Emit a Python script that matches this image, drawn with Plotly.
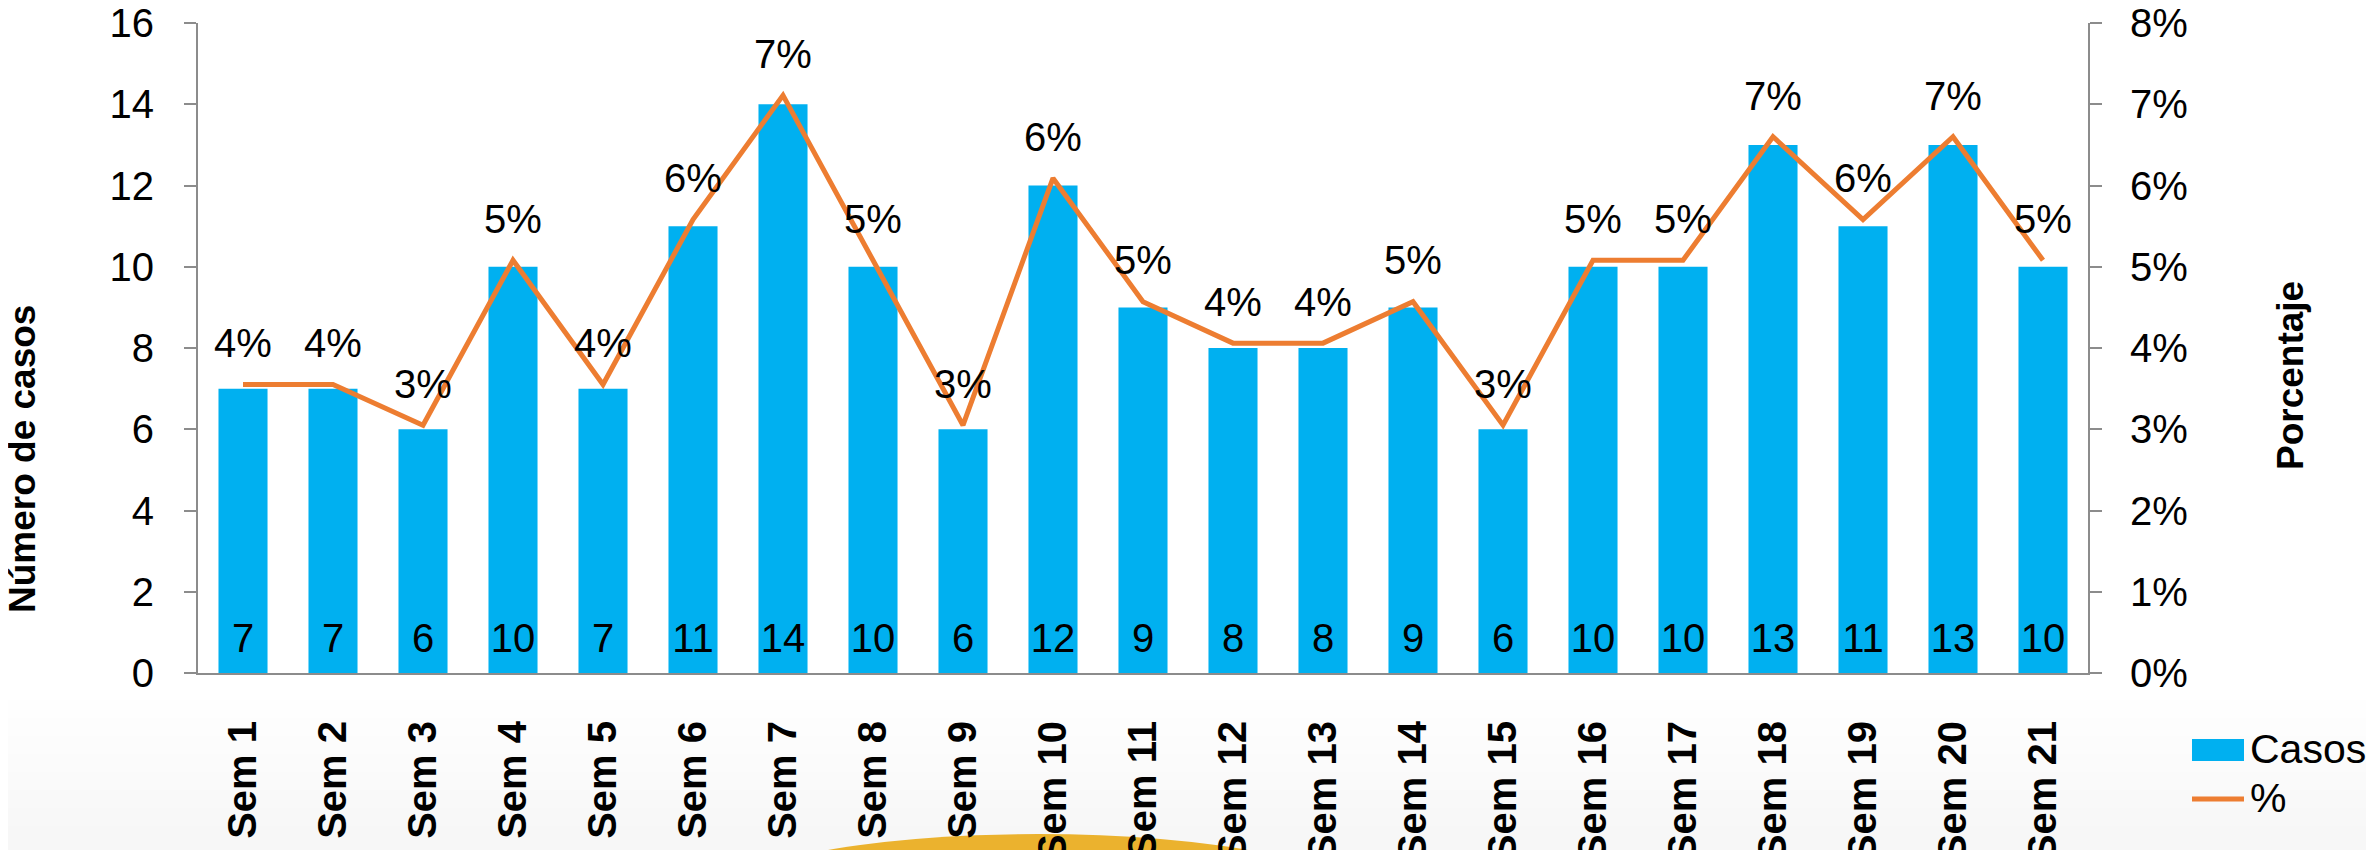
import plotly.graph_objects as go

semanas = ['Sem 1', 'Sem 2', 'Sem 3', 'Sem 4', 'Sem 5', 'Sem 6', 'Sem 7',
           'Sem 8', 'Sem 9', 'Sem 10', 'Sem 11', 'Sem 12', 'Sem 13', 'Sem 14',
           'Sem 15', 'Sem 16', 'Sem 17', 'Sem 18', 'Sem 19', 'Sem 20', 'Sem 21']
casos = [7, 7, 6, 10, 7, 11, 14, 10, 6, 12, 9, 8, 8, 9, 6, 10, 10, 13, 11, 13, 10]
porcentaje = [0.0355, 0.0355, 0.0305, 0.0508, 0.0355, 0.0558, 0.0711,
              0.0508, 0.0305, 0.0609, 0.0457, 0.0406, 0.0406, 0.0457,
              0.0305, 0.0508, 0.0508, 0.0660, 0.0558, 0.0660, 0.0508]

AZUL = '#00B0F0'
NARANJA = '#ED7D31'
GRIS = '#8C8C8C'
FUENTE = 'Liberation Sans, Arial, sans-serif'

# the page body adds 8px, so the plot area lands at x 198..2088, y 23..673
W, H = 2374, 850
L, T = 190, 15
pw, ph = 1890, 650
R, B = W - L - pw, H - T - ph
X0, Y1 = 198, 673  # plot area corner on screen


def px(x):
    return (x - X0) / pw


def py(y):
    return (Y1 - y) / ph


fig = go.Figure()

fig.add_trace(go.Bar(
    x=semanas, y=casos, name='Casos',
    marker=dict(color=AZUL, line=dict(width=0)),
    showlegend=False, hoverinfo='x+y',
))

# case counts written at the foot of each bar
fig.add_trace(go.Scatter(
    x=semanas, y=[0] * len(casos), text=casos,
    mode='markers+text', textposition='top center',
    marker=dict(size=16, opacity=0),
    textfont=dict(family=FUENTE, size=40, color='black'),
    cliponaxis=False, showlegend=False, hoverinfo='skip',
))

fig.add_trace(go.Scatter(
    x=semanas, y=porcentaje, name='%', yaxis='y2',
    mode='lines+markers+text',
    line=dict(color=NARANJA, width=5),
    marker=dict(size=26, opacity=0, color=NARANJA),
    texttemplate='%{y:.0%}', textposition='top center',
    textfont=dict(family=FUENTE, size=40, color='black'),
    cliponaxis=False, showlegend=False,
))

shapes = []
# very soft grey fade at the bottom of the slide
grises = ['#fefefe', '#fdfdfd', '#fcfcfc', '#fbfbfb', '#fafafa', '#f9f9f9', '#f8f8f8', '#f7f7f7']
for i, c in enumerate(grises):
    shapes.append(dict(type='rect', xref='paper', yref='paper', layer='below',
                       x0=px(-5), x1=px(W + 5), y0=py(H + 5), y1=py(700 + i * 18),
                       fillcolor=c, line=dict(width=0)))
# golden arc decoration
shapes.append(dict(type='circle', xref='paper', yref='paper', layer='below',
                   x0=px(718), x1=px(1358), y0=py(964), y1=py(834),
                   fillcolor='#EBB22E', line=dict(width=0)))
# legend swatches
shapes.append(dict(type='rect', xref='paper', yref='paper',
                   x0=px(2192), x1=px(2244), y0=py(761), y1=py(739),
                   fillcolor=AZUL, line=dict(width=0)))
shapes.append(dict(type='line', xref='paper', yref='paper',
                   x0=px(2192), x1=px(2244), y0=py(799), y1=py(799),
                   line=dict(color=NARANJA, width=5)))

annotations = [
    dict(text='Número de casos', xref='paper', yref='paper', x=px(22), y=py(459),
         textangle=-90, showarrow=False, xanchor='center', yanchor='middle',
         font=dict(family=FUENTE, size=37, color='black', weight='bold')),
    dict(text='Porcentaje', xref='paper', yref='paper', x=px(2291), y=py(376),
         textangle=-90, showarrow=False, xanchor='center', yanchor='middle',
         font=dict(family=FUENTE, size=37, color='black', weight='bold')),
    dict(text='Casos', xref='paper', yref='paper', x=px(2248), y=py(749),
         showarrow=False, xanchor='left', yanchor='middle',
         font=dict(family=FUENTE, size=41, color='black')),
    dict(text='%', xref='paper', yref='paper', x=px(2248), y=py(798),
         showarrow=False, xanchor='left', yanchor='middle',
         font=dict(family=FUENTE, size=41, color='black')),
]

fig.update_layout(
    width=W, height=H,
    margin=dict(l=L, r=R, t=T, b=B, autoexpand=False),
    paper_bgcolor='white', plot_bgcolor='rgba(0,0,0,0)',
    bargap=0.455,
    font=dict(family=FUENTE, color='black'),
    xaxis=dict(
        automargin=False, range=[-0.5, len(semanas) - 0.5],
        showline=True, linecolor=GRIS, linewidth=2, ticks='',
        tickangle=-90, ticklabelstandoff=30, ticklabeloverflow='allow',
        tickfont=dict(family=FUENTE, size=40, color='black', weight='bold'),
        showgrid=False,
    ),
    yaxis=dict(
        automargin=False, ticklabeloverflow='allow',
        range=[0, 16], dtick=2, showgrid=False, zeroline=False,
        showline=True, linecolor=GRIS, linewidth=2,
        ticks='outside', ticklen=12, tickwidth=2, tickcolor=GRIS,
        ticklabelstandoff=22,
        tickfont=dict(family=FUENTE, size=40, color='black'),
    ),
    yaxis2=dict(
        automargin=False, ticklabeloverflow='allow',
        overlaying='y', side='right', range=[0, 0.08], dtick=0.01,
        tickformat='.0%', showgrid=False, zeroline=False,
        showline=True, linecolor=GRIS, linewidth=2,
        ticks='outside', ticklen=12, tickwidth=2, tickcolor=GRIS,
        ticklabelstandoff=20,
        tickfont=dict(family=FUENTE, size=40, color='black'),
    ),
    shapes=shapes,
    annotations=annotations,
)

fig.write_html('out.html')
